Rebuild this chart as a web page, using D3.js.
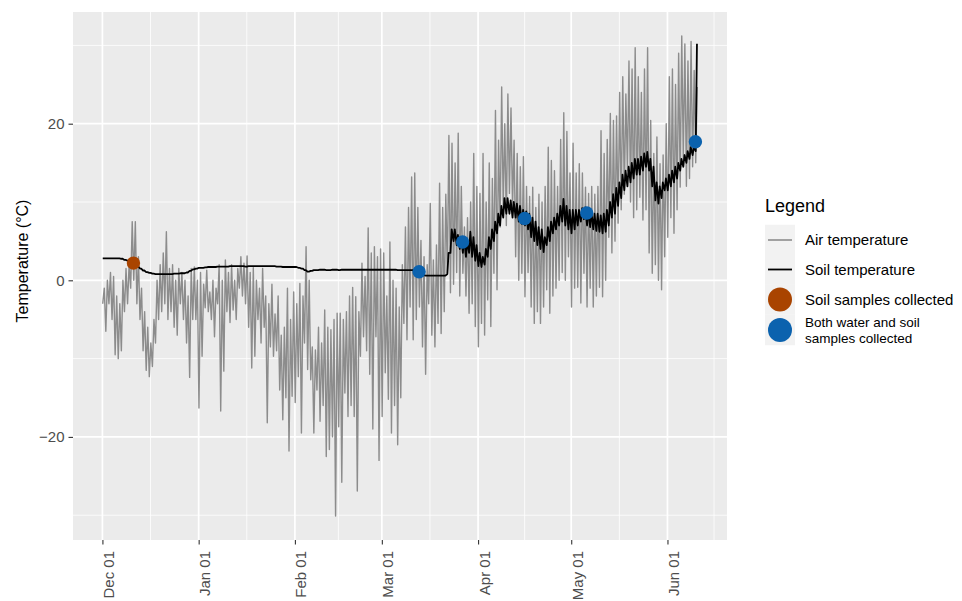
<!DOCTYPE html>
<html>
<head>
<meta charset="utf-8">
<script src="https://cdn.jsdelivr.net/npm/d3@7"></script>
<style>
  body { margin: 0; background: #fff; }
  svg { display: block; font-family: "Liberation Sans", Arial, Helvetica, sans-serif; }
</style>
</head>
<body>
<div id="chart"></div>
<script>
// first day of the record, one value per day after it
const startDay = "2018-12-01";

// daily air temperature extremes (°C), Dec 1 -> Jun 10
const airHigh = [
  -1, 0, 1, 0.5, -2, -3, 0, 1.5, 2, 7.5, 7.5, 3, -1, -4, -6, -8, -5, 0, 2, 3.5, 6.2, 1.5, 2, 0, 1.5, 1, 0, -2, 1.5, 1.7, 0,
  1, -0.5, 1.3, -1.5, 0, -1, 2, 0, 2.6, 1, 2, 0, 1.5, 3, 2.2, 3.1, 1, 1.6, 0, -1, 1.5, -2, -3, -0.5, -4.3, -2, -7, -6, -1, -5, -1.5,
  -3, -0.4, -2, 4.3, 0, -8.5, -8.9, -6, -8, -3.8, -6, -6.3, -5, -4.2, -4.2, -5, -4, -2, -0.9, -2.1, -4, 2.2, 0.5, 6.7, 3.5, 4.3, 3, 4,
  3.5, -2, 4.9, 0, -1, -3.4, 2, 6.8, 9.3, 13.2, 13.7, 9.3, 5.1, 3, 2, 9.8, 2.6, 4.5, 12.4, 9.3, 11, 18.5, 17.5, 15, 18.8, 12, 6.8, 8, 10, 16.2, 12,
  11.1, 16.2, 10, 15, 13, 21.7, 17.9, 24.7, 20, 23.8, 22, 17.9, 16.2, 14.5, 15.8, 12, 10.7, 11.9, 9.3, 11, 10, 12, 17, 15.3, 14, 12, 18, 21.4, 19, 13.7,
  17.5, 13.7, 14.9, 13.7, 11.9, 11.1, 12, 11, 12, 19.1, 16.2, 18, 21.3, 20.4, 21, 24, 26, 23.8, 28, 27, 29.7, 26, 24, 27, 29.7, 20.4, 16.2, 18.3, 14.9, 16, 20,
  26, 27, 25, 29, 31.2, 30.2, 28, 30.5, 26.8, 24.7
];
const airLow = [
  -3, -6.5, -3, -5, -9.5, -10, -9, -4, -3, -1, 0, -3, -5, -9, -11.5, -12.3, -11, -8, -5, -4, -3, -5, -4, -6, -7, -3, -5, -8, -12.4, -5, -5,
  -16.3, -9.7, -3.5, -4, -5, -7.2, -3, -16.7, -11.6, -4, -5.4, -3.8, -5, -1, -2, -3, -6, -11.2, -9.7, -5, -8, -6, -18.2, -8.5, -9.7, -9, -14, -17.8, -15, -21.8, -14.8,
  -15.6, -12.3, -19.5, -8, -11.4, -12.7, -19.5, -14, -18, -16, -22.5, -21.6, -20, -30.1, -18.7, -25.8, -14.4, -17.4, -16, -17.4, -26.9, -9.7, -7.2, -9, -12, -19, -7.2, -23,
  -17.4, -11.8, -15.2, -19.5, -16, -21, -15, -5.5, -7.6, -3.4, -7.6, -5, -3.4, -8.5, -12, -3, -7, -8.5, -5.5, -6.8, -4, 0.9, -1.6, -0.5, 1, -2, 0.9, -2, -4.2, -3, -5.9,
  -8.5, -5.5, -7, -2.5, -5.9, 0.9, -1.2, 6.8, 9.3, 7, 11.1, 9.3, 3, 0, 0.9, -2.1, 1, -3.4, -5.5, -4, -5.5, -3.4, -1.2, -4.2, -2, -1, 0, 1, 0, 3,
  -3.4, -1, -0.9, -2.9, 0.9, -3.4, -1, -3.4, -2, -0.9, -2.1, 0, 5.5, 3.5, 5, 7.3, 9, 11, 14, 10, 8, 9, 10.6, 7.7, 9, 3.5, 0.9, 2, 0, -1.2, 3,
  5.5, 8, 6, 9, 11.9, 15.3, 12, 13, 14.5, 15
];

// daily soil temperature extremes (°C)
const soilLow = [
  2.8, 2.8, 2.8, 2.8, 2.8, 2.8, 2.75, 2.6, 2.5, 2.3, 2.2, 1.8, 1.5, 1.25, 1.05, 0.95, 0.85, 0.8, 0.8, 0.8, 0.8, 0.8, 0.8, 0.85, 0.85, 0.9, 0.9, 1.0, 1.2, 1.4, 1.5,
  1.6, 1.6, 1.65, 1.7, 1.7, 1.7, 1.75, 1.75, 1.75, 1.75, 1.8, 1.8, 1.8, 1.8, 1.8, 1.75, 1.8, 1.8, 1.8, 1.8, 1.8, 1.8, 1.8, 1.8, 1.8, 1.75, 1.75, 1.7, 1.7, 1.7, 1.7,
  1.7, 1.6, 1.5, 1.3, 1.1, 1.2, 1.3, 1.3, 1.35, 1.35, 1.3, 1.3, 1.35, 1.35, 1.3, 1.35, 1.35, 1.35, 1.35, 1.35, 1.35, 1.35, 1.35, 1.35, 1.35, 1.35, 1.35, 1.35,
  1.35, 1.35, 1.35, 1.35, 1.35, 1.3, 1.3, 1.3, 1.3, 1.3, 1.3, 1.25, 1.1, 0.7, 0.6, 0.6, 0.6, 0.6, 0.6, 0.6, 0.6, 0.8, 3.5, 5, 4.5, 4, 3.5, 3, 3.5, 3, 2.5,
  1.8, 1.7, 2, 3, 4, 5, 6, 7, 8, 8.5, 8.5, 8, 8, 7.5, 7.2, 7, 6.5, 5.5, 5, 4.5, 4, 3.6, 4.5, 5, 6, 6.5, 7, 7.5, 7, 6.5,
  6, 6.5, 7, 7.5, 7.8, 7, 6.8, 6.5, 6.3, 6.2, 6, 6.2, 7, 8, 8.5, 9.5, 10.5, 11.5, 12, 12.5, 13, 13.5, 13.5, 14, 14.5, 14, 12, 10.2, 9.8, 10.5, 11.5,
  11.5, 12, 12.5, 13, 14, 14.5, 15, 15.5, 16, 16.5
];
const soilHigh = [
  2.8, 2.8, 2.8, 2.8, 2.8, 2.8, 2.75, 2.6, 2.5, 2.3, 2.2, 1.8, 1.5, 1.25, 1.05, 0.95, 0.85, 0.8, 0.8, 0.8, 0.8, 0.8, 0.8, 0.85, 0.85, 0.9, 0.9, 1.0, 1.2, 1.4, 1.5,
  1.6, 1.6, 1.65, 1.7, 1.7, 1.7, 1.75, 1.75, 1.75, 1.75, 1.8, 1.8, 1.8, 1.8, 1.8, 1.75, 1.8, 1.8, 1.8, 1.8, 1.8, 1.8, 1.8, 1.8, 1.8, 1.75, 1.75, 1.7, 1.7, 1.7, 1.7,
  1.7, 1.6, 1.5, 1.3, 1.1, 1.2, 1.3, 1.3, 1.35, 1.35, 1.3, 1.3, 1.35, 1.35, 1.3, 1.35, 1.35, 1.35, 1.35, 1.35, 1.35, 1.35, 1.35, 1.35, 1.35, 1.35, 1.35, 1.35,
  1.35, 1.35, 1.35, 1.35, 1.35, 1.3, 1.3, 1.3, 1.3, 1.3, 1.3, 1.25, 1.1, 0.7, 0.6, 0.6, 0.6, 0.6, 0.6, 0.6, 0.6, 3.5, 6.5, 6.5, 5.8, 5.5, 5.5, 5, 6.2, 5.5, 4.5,
  3.5, 3, 4, 5.5, 6.5, 7.5, 8.5, 9.5, 10.5, 10.5, 10.2, 10, 9.8, 9.5, 9, 8.8, 8.5, 8, 7.5, 6.8, 6.5, 5.5, 6.8, 7.5, 8, 8.5, 9.5, 10.4, 9.5, 9,
  9, 9, 9, 9.2, 9.3, 9, 8.8, 8.5, 8.5, 8.3, 8.5, 9, 10, 11, 11.8, 12.5, 13.5, 14, 14.5, 15, 15.5, 15.5, 15.8, 16.2, 16.4, 15.5, 14.5, 12.5, 12, 12.5, 13,
  13.5, 14, 14.5, 15, 15.5, 16, 16.5, 17, 17, 30.2
];

// sampling events
const soilSampleDates = ["2018-12-11"];
const soilSampleTemps = [2.2];
const bothSampleDates = ["2019-03-13", "2019-03-27", "2019-04-16", "2019-05-06", "2019-06-10"];
const bothSampleTemps = [1.1, 4.9, 7.9, 8.6, 17.7];

// axis breaks
const monthTicks = ["2018-12-01", "2019-01-01", "2019-02-01", "2019-03-01", "2019-04-01", "2019-05-01", "2019-06-01"];
const yTicks = [-20, 0, 20];

const legendLabels = ["Air temperature", "Soil temperature", "Soil samples collected", "Both water and soil\nsamples collected"];

const colors = { air: "#8c8c8c", soil: "#000000", soilSample: "#a94400", bothSample: "#0b62ae" };

const width = 962, height = 601;
const panel = { left: 73, top: 12, right: 727, bottom: 540 };

const parse = d3.utcParse("%Y-%m-%d");
const t0 = parse(startDay);
const dayAt = (i, frac) => new Date(t0.getTime() + (i + frac) * 864e5);

// each day: low value early, high value in the afternoon
function dailySeries(low, high, fLow, fHigh) {
    const out = [];
    low.forEach((v, i) => {
        out.push({ t: dayAt(i, fLow), v: v });
        out.push({ t: dayAt(i, fHigh), v: high[i] });
    });
    return out;
}

const air = dailySeries(airLow, airHigh, 0.1, 0.6);
const soil = dailySeries(soilLow, soilHigh, 0.1, 0.5);
const soilSamples = soilSampleDates.map((d, i) => ({ t: parse(d), v: soilSampleTemps[i] }));
const bothSamples = bothSampleDates.map((d, i) => ({ t: parse(d), v: bothSampleTemps[i] }));

// ggplot-like 5% expansion of the data range
function expand(ext, f) {
    const pad = (ext[1] - ext[0]) * f;
    return [ext[0] - pad, ext[1] + pad];
}
const all = air.concat(soil, soilSamples, bothSamples);
const tExt = expand(d3.extent(all, d => +d.t), 0.05);
const vExt = expand(d3.extent(all, d => d.v), 0.05);

const x = d3.scaleUtc().domain(tExt.map(v => new Date(v))).range([panel.left, panel.right]);
const y = d3.scaleLinear().domain(vExt).range([panel.bottom, panel.top]);

const svg = d3.select("#chart").append("svg")
    .attr("width", width)
    .attr("height", height);

svg.append("rect")
    .attr("x", panel.left).attr("y", panel.top)
    .attr("width", panel.right - panel.left)
    .attr("height", panel.bottom - panel.top)
    .attr("fill", "#ebebeb");

// grid
const monthDates = monthTicks.map(parse);
const allMonths = d3.utcMonth.range(d3.utcMonth.floor(x.domain()[0]), d3.utcMonth.offset(x.domain()[1], 1));
const xMinor = d3.pairs(allMonths).map(([a, b]) => new Date((+a + +b) / 2))
    .filter(d => d >= x.domain()[0] && d <= x.domain()[1]);
const yStep = yTicks[1] - yTicks[0];
const yMinor = yTicks.map(t => t - yStep / 2).concat([yTicks[yTicks.length - 1] + yStep / 2])
    .filter(v => v >= y.domain()[0] && v <= y.domain()[1]);

const grid = svg.append("g").attr("stroke", "#fff");
grid.selectAll(".ymin").data(yMinor).join("line")
    .attr("x1", panel.left).attr("x2", panel.right)
    .attr("y1", d => y(d)).attr("y2", d => y(d))
    .attr("stroke-width", 0.8);
grid.selectAll(".xmin").data(xMinor).join("line")
    .attr("x1", d => x(d)).attr("x2", d => x(d))
    .attr("y1", panel.top).attr("y2", panel.bottom)
    .attr("stroke-width", 0.8);
grid.selectAll(".ymaj").data(yTicks).join("line")
    .attr("x1", panel.left).attr("x2", panel.right)
    .attr("y1", d => y(d)).attr("y2", d => y(d))
    .attr("stroke-width", 1.7);
grid.selectAll(".xmaj").data(monthDates).join("line")
    .attr("x1", d => x(d)).attr("x2", d => x(d))
    .attr("y1", panel.top).attr("y2", panel.bottom)
    .attr("stroke-width", 1.7);

// lines
const line = d3.line().x(d => x(d.t)).y(d => y(d.v));

svg.append("path").datum(air)
    .attr("fill", "none")
    .attr("stroke", colors.air)
    .attr("stroke-width", 1.4)
    .attr("stroke-linejoin", "round")
    .attr("d", line);

svg.append("path").datum(soil)
    .attr("fill", "none")
    .attr("stroke", colors.soil)
    .attr("stroke-width", 1.8)
    .attr("stroke-linejoin", "round")
    .attr("d", line);

// sample points
svg.selectAll(".soil-sample").data(soilSamples).join("circle")
    .attr("cx", d => x(d.t)).attr("cy", d => y(d.v))
    .attr("r", 6.7)
    .attr("fill", colors.soilSample);
svg.selectAll(".both-sample").data(bothSamples).join("circle")
    .attr("cx", d => x(d.t)).attr("cy", d => y(d.v))
    .attr("r", 6.7)
    .attr("fill", colors.bothSample);

// axes
function styleAxis(g) {
    g.select(".domain").remove();
    g.selectAll(".tick line").attr("stroke", "#333").attr("stroke-width", 1.1);
    g.selectAll(".tick text").attr("fill", "#4d4d4d").style("font-size", "15px");
}

svg.append("g")
    .attr("transform", `translate(${panel.left},0)`)
    .call(d3.axisLeft(y).tickValues(yTicks).tickSize(4.5).tickPadding(4))
    .call(styleAxis)
    .attr("font-family", null);

const xAxis = svg.append("g")
    .attr("transform", `translate(0,${panel.bottom})`)
    .call(d3.axisBottom(x).tickValues(monthDates).tickFormat(d3.utcFormat("%b %d")).tickSize(4.5))
    .call(styleAxis)
    .attr("font-family", null);
xAxis.selectAll(".tick text")
    .attr("transform", "rotate(-90)")
    .attr("text-anchor", "end")
    .attr("x", -11)
    .attr("y", 11)
    .attr("dy", null);

svg.append("text")
    .attr("transform", "rotate(-90)")
    .attr("x", -261)
    .attr("y", 28)
    .attr("text-anchor", "middle")
    .style("font-size", "16px")
    .attr("fill", "#000")
    .text("Temperature (°C)");

// legend
const legend = svg.append("g").attr("transform", "translate(765,0)");
legend.append("text")
    .attr("x", 0).attr("y", 212)
    .style("font-size", "18px")
    .text("Legend");

const rowY = [240, 269.5, 299.5, 330];
const rowH = 30.5;
legend.selectAll(".key").data(rowY).join("rect")
    .attr("x", 0).attr("y", d => d - rowH / 2)
    .attr("width", 30).attr("height", rowH)
    .attr("fill", "#f2f2f2");

legend.append("line")
    .attr("x1", 3).attr("x2", 27).attr("y1", rowY[0]).attr("y2", rowY[0])
    .attr("stroke", colors.air).attr("stroke-width", 1.6);
legend.append("line")
    .attr("x1", 3).attr("x2", 27).attr("y1", rowY[1]).attr("y2", rowY[1])
    .attr("stroke", colors.soil).attr("stroke-width", 1.8);
legend.append("circle")
    .attr("cx", 15).attr("cy", rowY[2]).attr("r", 12)
    .attr("fill", colors.soilSample);
legend.append("circle")
    .attr("cx", 15).attr("cy", rowY[3]).attr("r", 12)
    .attr("fill", colors.bothSample);

legendLabels.forEach((label, i) => {
    const lines = label.split("\n");
    const lineGap = 15.5;
    lines.forEach((s, j) => {
        legend.append("text")
            .attr("x", 40)
            .attr("y", rowY[i] - (lines.length - 1) * lineGap / 2 + j * lineGap)
            .attr("dy", "0.36em")
            .style("font-size", lines.length > 1 ? "13.5px" : "15px")
            .attr("fill", "#000")
            .text(s);
    });
});
</script>
</body>
</html>
